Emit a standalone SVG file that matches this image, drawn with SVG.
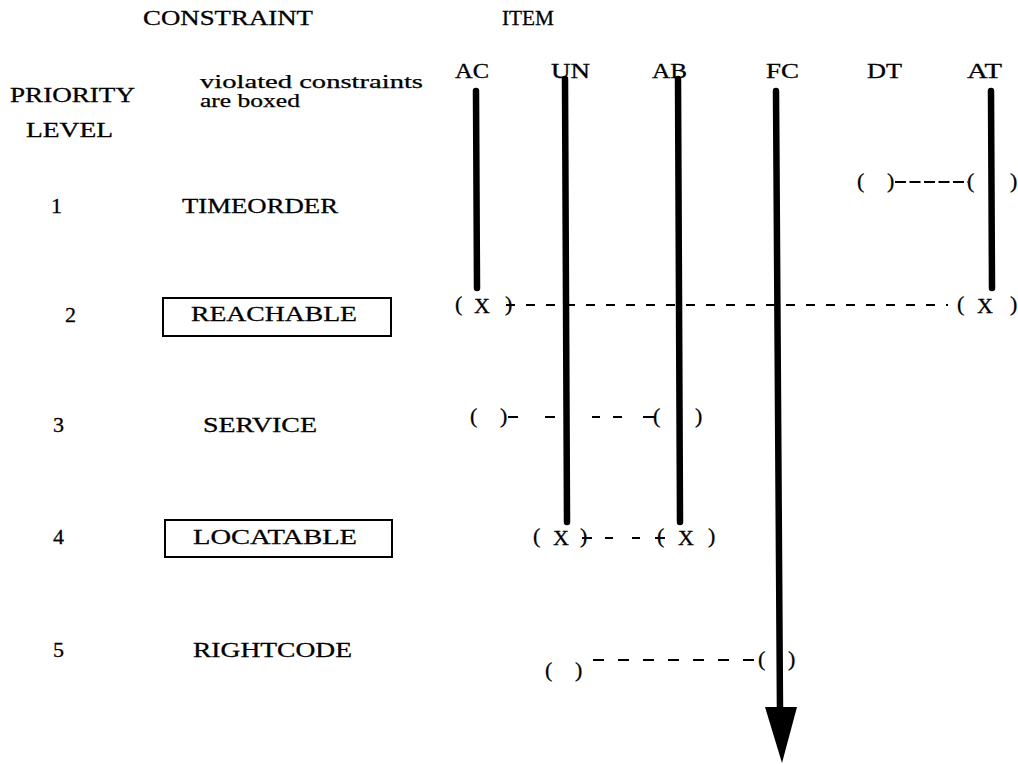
<svg xmlns="http://www.w3.org/2000/svg" width="1018" height="764" viewBox="0 0 1018 764">
<defs>
<style>
.t{font-family:"Liberation Serif","DejaVu Serif",serif;font-size:22px;fill:#000;stroke:#000;stroke-width:0.3}
.s{font-family:"Liberation Serif","DejaVu Serif",serif;font-size:19px;fill:#000;stroke:#000;stroke-width:0.25}
.col{stroke:#000;stroke-width:6.5;stroke-linecap:round;fill:none}
.box{fill:none;stroke:#000;stroke-width:2}
.d{stroke:#000;stroke-width:2.2;fill:none}
</style>
</defs>
<rect width="1018" height="764" fill="#fff"/>
<g id="headers">
<text class="t" x="143" y="25" textLength="170" lengthAdjust="spacingAndGlyphs">CONSTRAINT</text>
<text class="t" x="502" y="25" textLength="52" lengthAdjust="spacingAndGlyphs">ITEM</text>
<text class="t" x="10" y="102" textLength="125" lengthAdjust="spacingAndGlyphs">PRIORITY</text>
<text class="t" x="26" y="137" textLength="87" lengthAdjust="spacingAndGlyphs">LEVEL</text>
<text class="s" x="200" y="88" textLength="223" lengthAdjust="spacingAndGlyphs">violated constraints</text>
<text class="s" x="200" y="107" textLength="100" lengthAdjust="spacingAndGlyphs">are boxed</text>
</g>
<g id="item-labels">
<text class="t" x="455" y="78" textLength="34" lengthAdjust="spacingAndGlyphs">AC</text>
<text class="t" x="551" y="78" textLength="39" lengthAdjust="spacingAndGlyphs">UN</text>
<text class="t" x="652" y="78" textLength="35" lengthAdjust="spacingAndGlyphs">AB</text>
<text class="t" x="766" y="78" textLength="33" lengthAdjust="spacingAndGlyphs">FC</text>
<text class="t" x="867" y="78" textLength="35" lengthAdjust="spacingAndGlyphs">DT</text>
<text class="t" x="967" y="78" textLength="35" lengthAdjust="spacingAndGlyphs">AT</text>
</g>
<g id="level-1">
<text class="t" x="51" y="213">1</text>
<text class="t" x="182" y="213" textLength="156" lengthAdjust="spacingAndGlyphs">TIMEORDER</text>
</g>
<g id="level-2">
<text class="t" x="65" y="322">2</text>
<rect class="box" x="163" y="298" width="228" height="38"/>
<text class="t" x="191" y="321" textLength="166" lengthAdjust="spacingAndGlyphs">REACHABLE</text>
</g>
<g id="level-3">
<text class="t" x="53" y="432">3</text>
<text class="t" x="203" y="432" textLength="114" lengthAdjust="spacingAndGlyphs">SERVICE</text>
</g>
<g id="level-4">
<text class="t" x="53" y="544">4</text>
<rect class="box" x="165" y="520" width="227" height="37"/>
<text class="t" x="193" y="544" textLength="164" lengthAdjust="spacingAndGlyphs">LOCATABLE</text>
</g>
<g id="level-5">
<text class="t" x="53" y="657">5</text>
<text class="t" x="193" y="657" textLength="159" lengthAdjust="spacingAndGlyphs">RIGHTCODE</text>
</g>
<g id="item-lines">
<line class="col" x1="476" y1="91" x2="477" y2="288"/>
<line class="col" x1="565" y1="79" x2="567" y2="522"/>
<line class="col" x1="678" y1="79" x2="680" y2="522"/>
<line class="col" x1="776" y1="91" x2="780" y2="712"/>
<polygon points="765,707 797,707 782,763" fill="#000"/>
<line class="col" x1="991" y1="91" x2="992" y2="288"/>
</g>
<g id="connectors">
<line class="d" x1="895" y1="182" x2="968" y2="182" stroke-dasharray="11 3.5"/>
<line class="d" x1="506" y1="305" x2="948" y2="305" stroke-dasharray="9 11"/>
<path class="d" d="M508 417H518M545 417H555M592 417H600M613 417H622M643 417H655"/>
<path class="d" d="M582 538H592M605 538H613M632 538H640M655 538H665"/>
<line class="d" x1="593" y1="660" x2="760" y2="660" stroke-dasharray="11 14"/>
</g>
<g id="value-marks">
<text class="t" x="857" y="188">(</text>
<text class="t" x="887" y="188">)</text>
<text class="t" x="967" y="188">(</text>
<text class="t" x="1010" y="188">)</text>
<text class="t" x="455" y="311">(</text>
<text class="t" x="474" y="313">X</text>
<text class="t" x="505" y="311">)</text>
<text class="t" x="957" y="311">(</text>
<text class="t" x="977" y="313">X</text>
<text class="t" x="1010" y="311">)</text>
<text class="t" x="470" y="423">(</text>
<text class="t" x="500" y="423">)</text>
<text class="t" x="653" y="423">(</text>
<text class="t" x="695" y="423">)</text>
<text class="t" x="533" y="543">(</text>
<text class="t" x="553" y="545">X</text>
<text class="t" x="580" y="543">)</text>
<text class="t" x="657" y="543">(</text>
<text class="t" x="678" y="545">X</text>
<text class="t" x="708" y="543">)</text>
<text class="t" x="545" y="677">(</text>
<text class="t" x="575" y="677">)</text>
<text class="t" x="758" y="666">(</text>
<text class="t" x="788" y="666">)</text>
</g>
</svg>
